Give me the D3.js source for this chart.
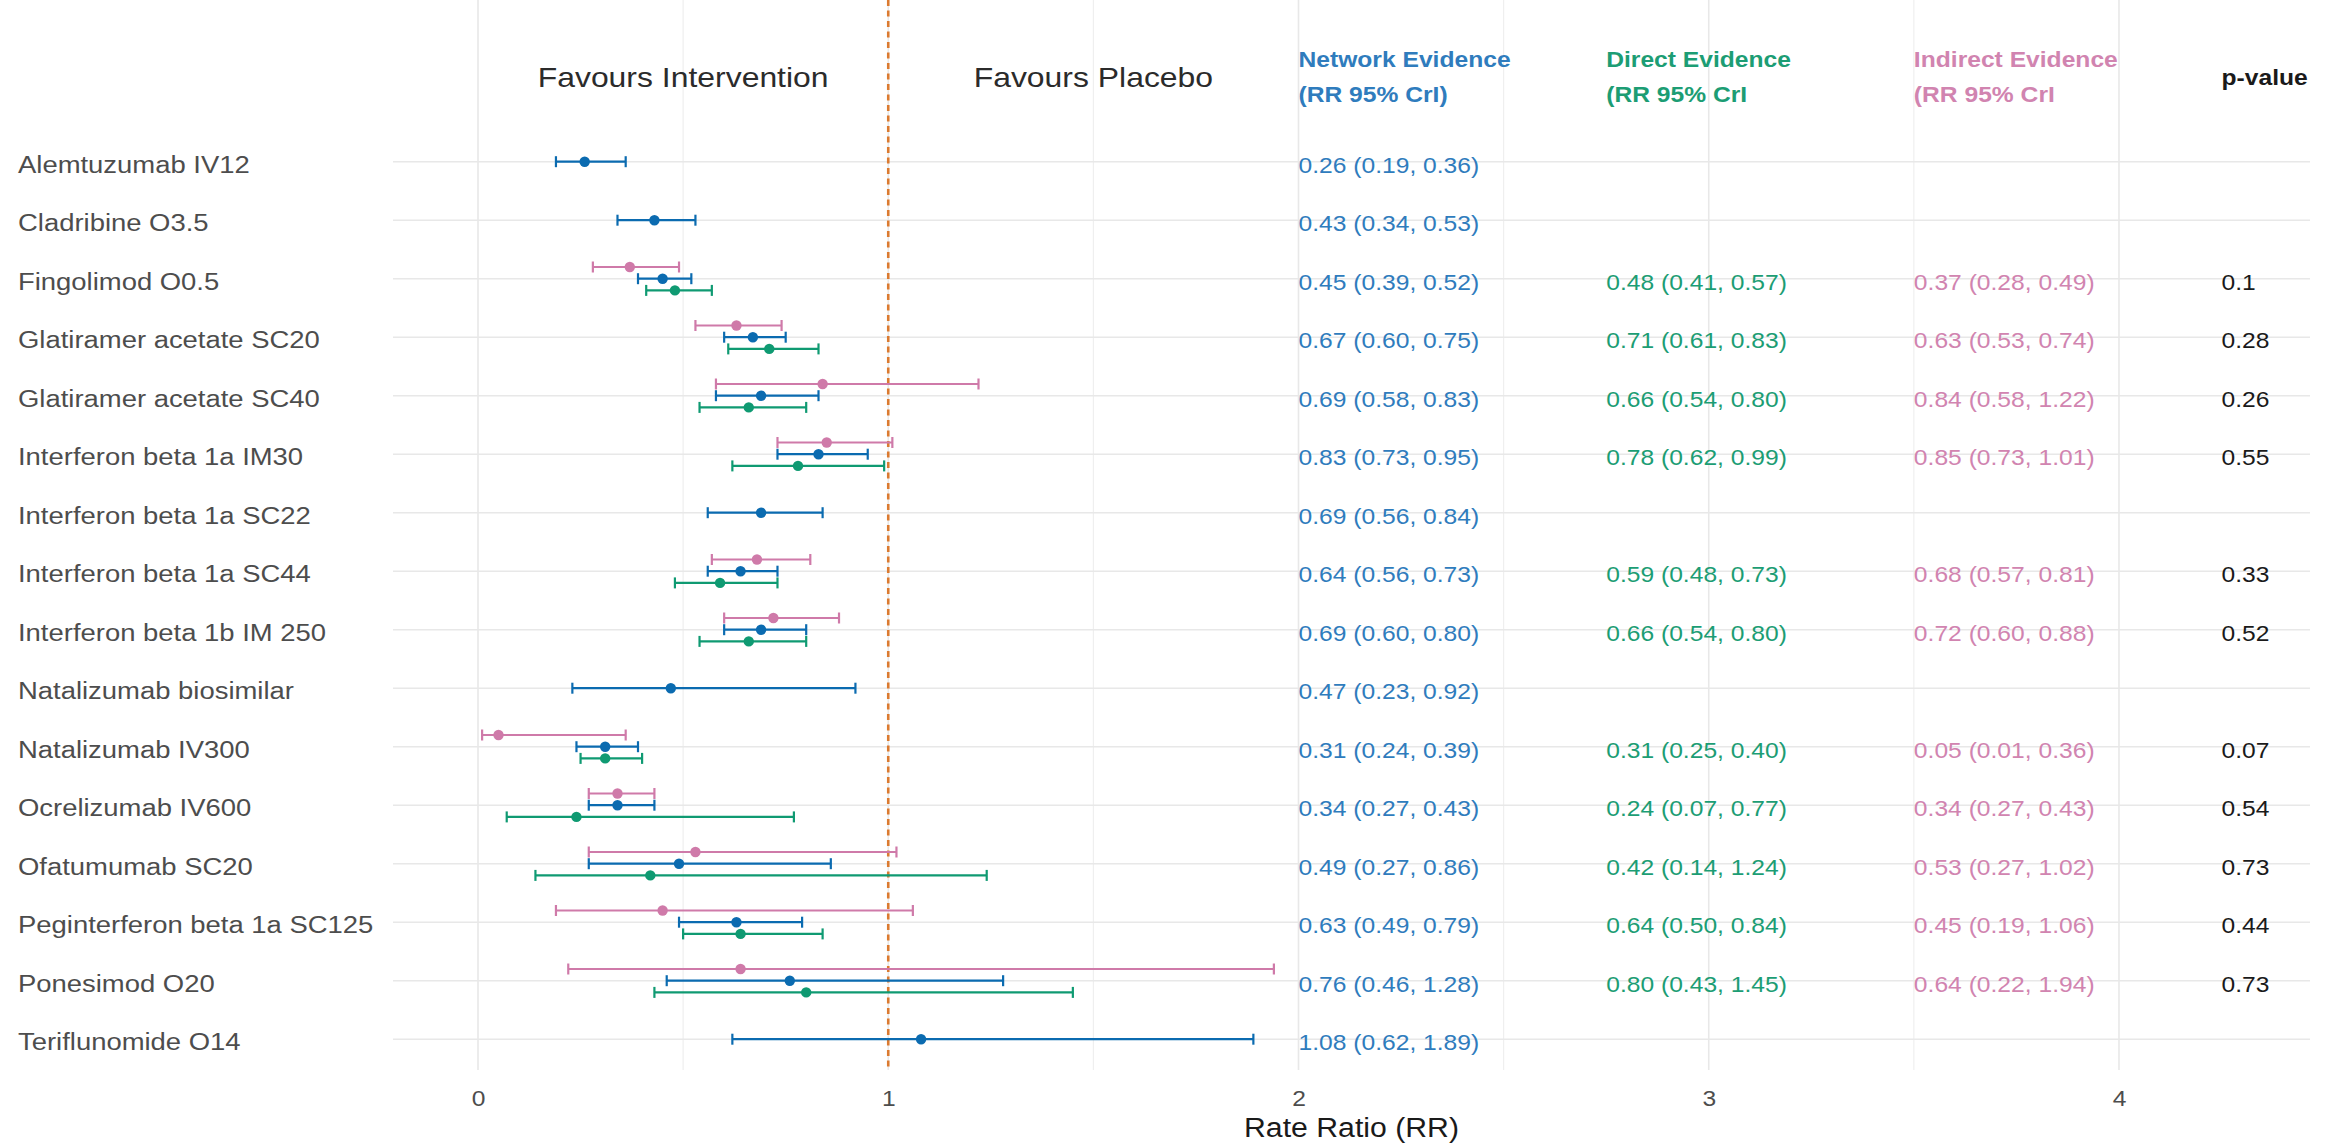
<!DOCTYPE html>
<html><head><meta charset="utf-8">
<script src="https://cdn.jsdelivr.net/npm/d3@7"></script>
<style>body{margin:0;background:#fff}svg{display:block}</style>
</head><body><svg id="c" width="2325" height="1148"></svg>
<script>
const treatments = ["Alemtuzumab IV12","Cladribine O3.5","Fingolimod O0.5","Glatiramer acetate SC20","Glatiramer acetate SC40","Interferon beta 1a IM30","Interferon beta 1a SC22","Interferon beta 1a SC44","Interferon beta 1b IM 250","Natalizumab biosimilar","Natalizumab IV300","Ocrelizumab IV600","Ofatumumab SC20","Peginterferon beta 1a SC125","Ponesimod O20","Teriflunomide O14"];
const networkEst = [0.26,0.43,0.45,0.67,0.69,0.83,0.69,0.64,0.69,0.47,0.31,0.34,0.49,0.63,0.76,1.08];
const networkLo  = [0.19,0.34,0.39,0.60,0.58,0.73,0.56,0.56,0.60,0.23,0.24,0.27,0.27,0.49,0.46,0.62];
const networkHi  = [0.36,0.53,0.52,0.75,0.83,0.95,0.84,0.73,0.80,0.92,0.39,0.43,0.86,0.79,1.28,1.89];
const directEst  = [null,null,0.48,0.71,0.66,0.78,null,0.59,0.66,null,0.31,0.24,0.42,0.64,0.80,null];
const directLo   = [null,null,0.41,0.61,0.54,0.62,null,0.48,0.54,null,0.25,0.07,0.14,0.50,0.43,null];
const directHi   = [null,null,0.57,0.83,0.80,0.99,null,0.73,0.80,null,0.40,0.77,1.24,0.84,1.45,null];
const indirectEst= [null,null,0.37,0.63,0.84,0.85,null,0.68,0.72,null,0.05,0.34,0.53,0.45,0.64,null];
const indirectLo = [null,null,0.28,0.53,0.58,0.73,null,0.57,0.60,null,0.01,0.27,0.27,0.19,0.22,null];
const indirectHi = [null,null,0.49,0.74,1.22,1.01,null,0.81,0.88,null,0.36,0.43,1.02,1.06,1.94,null];
const pValues    = ["","","0.1","0.28","0.26","0.55","","0.33","0.52","","0.07","0.54","0.73","0.44","0.73",""];
const xTicks = [0,1,2,3,4];
const gridBreaks = [0,0.5,1,1.5,2,2.5,3,3.5,4];
const favourLabels = ["Favours Intervention","Favours Placebo"];
const favourPos = [0.5,1.5];
const columnHeads = [["Network Evidence","(RR 95% CrI)"],["Direct Evidence","(RR 95% CrI"],["Indirect Evidence","(RR 95% CrI"]];
const columnPos = [2.0,2.75,3.5];
const pHeadPos = 4.25;
const xTitle = "Rate Ratio (RR)";

const COL = {net:"#0b6bb0", dir:"#0f9a72", ind:"#cf7aa9"};
const TXTCOL = {net:"#2f7cbd", dir:"#1c9d74", ind:"#d184b0"};
const SX = 1.12;
const FONT = "'Liberation Sans', Arial, sans-serif";

const svg = d3.select("#c");
const x = d3.scaleLinear().domain([-0.2072, 4.4656]).range([393, 2310]);
const y = d3.scalePoint().domain(treatments).range([161.7, 1039.2]);
const panelBottom = 1070;

function txt(g, str, px, py, size, color, anchor, weight){
  return g.append("text").attr("transform",`translate(${px},${py}) scale(${SX},1)`)
    .attr("text-anchor",anchor||"start").attr("font-family",FONT)
    .attr("font-size",size).attr("font-weight",weight||"normal").attr("fill",color).text(str);
}

// grid
const grid = svg.append("g");
grid.selectAll("line.v").data(gridBreaks).join("line")
  .attr("x1",d=>x(d)).attr("x2",d=>x(d)).attr("y1",0).attr("y2",panelBottom)
  .attr("stroke",d=>Number.isInteger(d)?"#e8e8e8":"#efefef").attr("stroke-width",d=>Number.isInteger(d)?1.6:1.2);
grid.selectAll("line.h").data(treatments).join("line")
  .attr("x1",393).attr("x2",2310).attr("y1",d=>y(d)).attr("y2",d=>y(d))
  .attr("stroke","#e8e8e8").attr("stroke-width",1.6);

// reference line
svg.append("line").attr("x1",x(1)).attr("x2",x(1)).attr("y1",0).attr("y2",panelBottom)
  .attr("stroke","#db7a30").attr("stroke-width",2.6).attr("stroke-dasharray","6,4.5");

// series
const series = [
  {key:"ind", est:indirectEst, lo:indirectLo, hi:indirectHi, off:-11.7},
  {key:"net", est:networkEst, lo:networkLo, hi:networkHi, off:0},
  {key:"dir", est:directEst, lo:directLo, hi:directHi, off:11.7}
];
series.forEach(s=>{
  const rows = treatments.map((t,i)=>({t, e:s.est[i], l:s.lo[i], h:s.hi[i]})).filter(r=>r.e!==null);
  const g = svg.append("g").attr("stroke",COL[s.key]).attr("fill",COL[s.key]);
  g.selectAll("line.bar").data(rows).join("line")
    .attr("x1",r=>x(r.l)).attr("x2",r=>x(r.h)).attr("y1",r=>y(r.t)+s.off).attr("y2",r=>y(r.t)+s.off).attr("stroke-width",2.2);
  ["l","h"].forEach(k=>{
    g.selectAll("line.cap"+k).data(rows).join("line")
      .attr("x1",r=>x(r[k])).attr("x2",r=>x(r[k])).attr("y1",r=>y(r.t)+s.off-5.5).attr("y2",r=>y(r.t)+s.off+5.5).attr("stroke-width",2.2);
  });
  g.selectAll("circle").data(rows).join("circle")
    .attr("cx",r=>x(r.e)).attr("cy",r=>y(r.t)+s.off).attr("r",5.2).attr("stroke","none");
});

// left labels
const lab = svg.append("g");
treatments.forEach(t=>txt(lab,t,18,y(t)+11,24.5,"#4d4d4d","start"));

// value text columns
const fmt = v=>v.toFixed(2);
const vt = svg.append("g");
[[networkEst,networkLo,networkHi,"net",0],[directEst,directLo,directHi,"dir",1],[indirectEst,indirectLo,indirectHi,"ind",2]].forEach(([e,l,h,k,ci])=>{
  treatments.forEach((t,i)=>{
    if(e[i]===null) return;
    txt(vt,`${fmt(e[i])} (${fmt(l[i])}, ${fmt(h[i])})`, x(columnPos[ci]), y(t)+11, 22, TXTCOL[k], "start");
  });
});
treatments.forEach((t,i)=>{ if(pValues[i]) txt(vt,pValues[i],x(pHeadPos),y(t)+11,22,"#1a1a1a","start"); });

// headers
columnHeads.forEach((hd,ci)=>{
  const k=["net","dir","ind"][ci];
  txt(svg,hd[0],x(columnPos[ci]),66.7,22,TXTCOL[k],"start","bold");
  txt(svg,hd[1],x(columnPos[ci]),101.7,22,TXTCOL[k],"start","bold");
});
txt(svg,"p-value",x(pHeadPos),84.5,22,"#1a1a1a","start","bold");
favourLabels.forEach((f,i)=>txt(svg,f,x(favourPos[i]),86.7,28.5,"#2b2b2b","middle"));

// x axis
const ax = svg.append("g").attr("transform",`translate(0,${panelBottom})`)
  .call(d3.axisBottom(x).tickValues(xTicks).tickFormat(d3.format("d")).tickSize(0).tickPadding(36));
ax.select(".domain").remove();
ax.selectAll("text").attr("font-family",FONT).attr("font-size",22).attr("fill","#4d4d4d")
  .attr("transform",`scale(${SX},1)`).attr("dy",0);
txt(svg,xTitle,(393+2310)/2,1137,27,"#1a1a1a","middle");
</script></body></html>
